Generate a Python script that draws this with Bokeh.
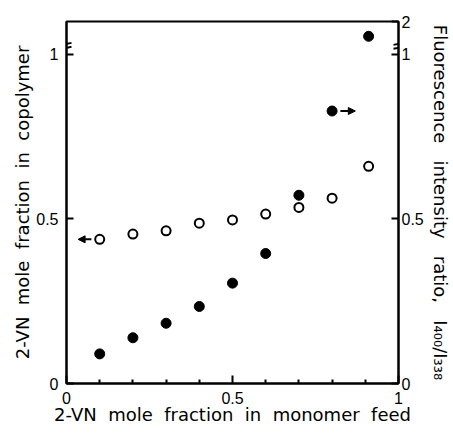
from bokeh.plotting import figure
from bokeh.models import (Range1d, LinearAxis, FixedTicker, Arrow, NormalHead)
from bokeh.embed import file_html
from bokeh.resources import INLINE

# ---- data ----
feed = [0.1, 0.2, 0.3, 0.4, 0.5, 0.6, 0.7, 0.8, 0.91]
copolymer = [0.438, 0.454, 0.464, 0.487, 0.497, 0.515, 0.535, 0.563, 0.660]
# fluorescence ratio, plotted on the (broken) right-axis display scale
fluor = [0.090, 0.139, 0.183, 0.234, 0.305, 0.395, 0.572, 0.828, 1.055]

x_ticks = [0, 0.5, 1]
x_minor = [0.1, 0.2, 0.3, 0.4, 0.6, 0.7, 0.8, 0.9]
left_ticks = [0, 0.5, 1]
left_labels = {0: "0", 0.5: "0.5", 1: "1"}
right_ticks = [0, 0.5, 1, 1.1]
right_labels = {0: "0", 0.5: "0.5", 1: "1", 1.1: "2"}
y_break = 1.025

LFONT = "DejaVu Sans"
TFONT = "Liberation Sans"
SP = "\u00a0\u00a0"      # wide word spacing
SP3 = "\u00a0\u00a0\u00a0"

x_title = SP.join(["2-VN", "mole", "fraction", "in", "monomer", "feed"])
y_title = SP.join(["2-VN", "mole", "fraction", "in", "copolymer"])
r_title = SP3.join(["Fluorescence", "intensity", "ratio,", "I\u2084\u2080\u2080/I\u2083\u2083\u2088"])

p = figure(width=453, height=434, output_backend="svg", toolbar_location=None,
           x_range=Range1d(0, 1), y_range=Range1d(0, 1.1),
           min_border_left=66, min_border_right=53, min_border_top=21,
           min_border_bottom=51, background_fill_color="white",
           border_fill_color="white")
p.grid.visible = False
p.outline_line_color = "black"
p.outline_line_width = 2


def style_axis(ax, title, standoff, lab_standoff):
    ax.axis_line_width = 2
    ax.major_tick_line_width = 2
    ax.major_tick_out = 0
    ax.major_label_standoff = standoff
    ax.major_label_text_font = TFONT
    ax.major_label_text_font_size = "16px"
    ax.major_label_text_color = "black"
    ax.axis_label = title
    ax.axis_label_text_font = LFONT
    ax.axis_label_text_font_size = "18px"
    ax.axis_label_text_font_style = "normal"
    ax.axis_label_text_color = "black"
    ax.axis_label_standoff = lab_standoff


# bottom axis
xa = p.xaxis[0]
xa.ticker = FixedTicker(ticks=x_ticks, minor_ticks=x_minor)
style_axis(xa, x_title, 8, -3)
xa.major_tick_in = 8
xa.minor_tick_in = 4
xa.minor_tick_out = 0
xa.minor_tick_line_width = 2

# left axis
ya = p.yaxis[0]
ya.ticker = FixedTicker(ticks=left_ticks)
ya.major_label_overrides = left_labels
style_axis(ya, y_title, 8, 0)
ya.major_tick_in = 7
ya.minor_tick_line_color = None

# right axis
ra = LinearAxis(ticker=FixedTicker(ticks=right_ticks),
                major_label_overrides=right_labels)
style_axis(ra, r_title, 3, 3)
ra.major_tick_in = 7
ra.minor_tick_line_color = None
p.add_layout(ra, "right")

# axis break marks
for xb in (0, 1):
    p.segment(x0=[xb - 0.015, xb - 0.015], x1=[xb + 0.015, xb + 0.015],
              y0=[y_break - 0.008, y_break + 0.004],
              y1=[y_break - 0.002, y_break + 0.010],
              line_color="black", line_width=2)

# data
p.scatter(feed, fluor, size=10, marker="circle", fill_color="black",
          line_color="black")
p.scatter(feed, copolymer, size=9, marker="circle", fill_color="white",
          line_color="black", line_width=2)

# arrows indicating the axis of each series
p.add_layout(Arrow(end=NormalHead(size=7, fill_color="black", line_color="black"),
                   x_start=feed[0] - 0.025, y_start=copolymer[0],
                   x_end=feed[0] - 0.065, y_end=copolymer[0],
                   line_width=2))
p.add_layout(Arrow(end=NormalHead(size=7, fill_color="black", line_color="black"),
                   x_start=feed[7] + 0.025, y_start=fluor[7],
                   x_end=feed[7] + 0.07, y_end=fluor[7],
                   line_width=2))

open("out.html", "w").write(file_html(p, INLINE))
